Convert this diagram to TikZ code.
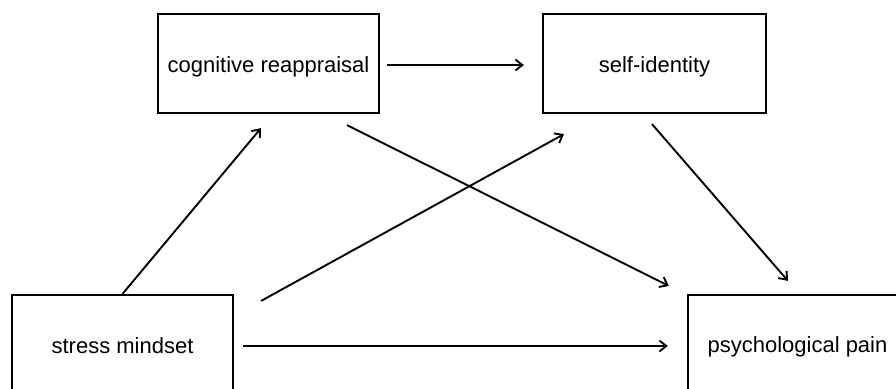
\documentclass[tikz,border=0pt]{standalone}
\usepackage{fontspec}
\setmainfont{Liberation Sans}
\usetikzlibrary{arrows.meta}
\begin{document}
\begin{tikzpicture}[x=1pt,y=-1pt,
  box/.style={draw=black,line width=2.2pt,rectangle,inner sep=0pt,text depth=0pt,
    font=\fontsize{22}{27}\selectfont,text=black},
  link/.style={draw=black,line width=1.9pt,-{Straight Barb[length=7pt,width=11pt,line width=1.9pt]}}]
\useasboundingbox (0,0) rectangle (896,388);
\clip (0,0) rectangle (896,388);
\fill[white] (0,0) rectangle (896,388);
\node[box,minimum width=221pt,minimum height=99pt,text height=18.4pt] (cog) at (268.5,63.5) {cognitive reappraisal};
\node[box,minimum width=223pt,minimum height=99pt,text height=18.4pt] (self) at (654.5,63.5) {self-identity};
\node[box,minimum width=221pt,minimum height=104pt,text height=13pt] (stress) at (122.5,347) {stress mindset};
\node[box,minimum width=219pt,minimum height=104pt,text height=11.4pt] (psych) at (797.5,347) {psychological pain};
\draw[link] ([shift={(7,1.5)}]cog.east) -- ([shift={(-18,1.5)}]self.west);
\draw[link] (stress.north) -- ([shift={(-7.5,14)}]cog.south);
\draw[link] ([shift={(27,7)}]stress.north east) -- ([shift={(-90.5,20)}]self.south);
\draw[link] ([shift={(78.5,11)}]cog.south) -- ([shift={(-18,-8)}]psych.north west);
\draw[link] ([shift={(-2.5,10)}]self.south) -- ([shift={(-9.5,-13)}]psych.north);
\draw[link] ([shift={(9,-1)}]stress.east) -- ([shift={(-19,-1)}]psych.west);
\end{tikzpicture}
\end{document}
